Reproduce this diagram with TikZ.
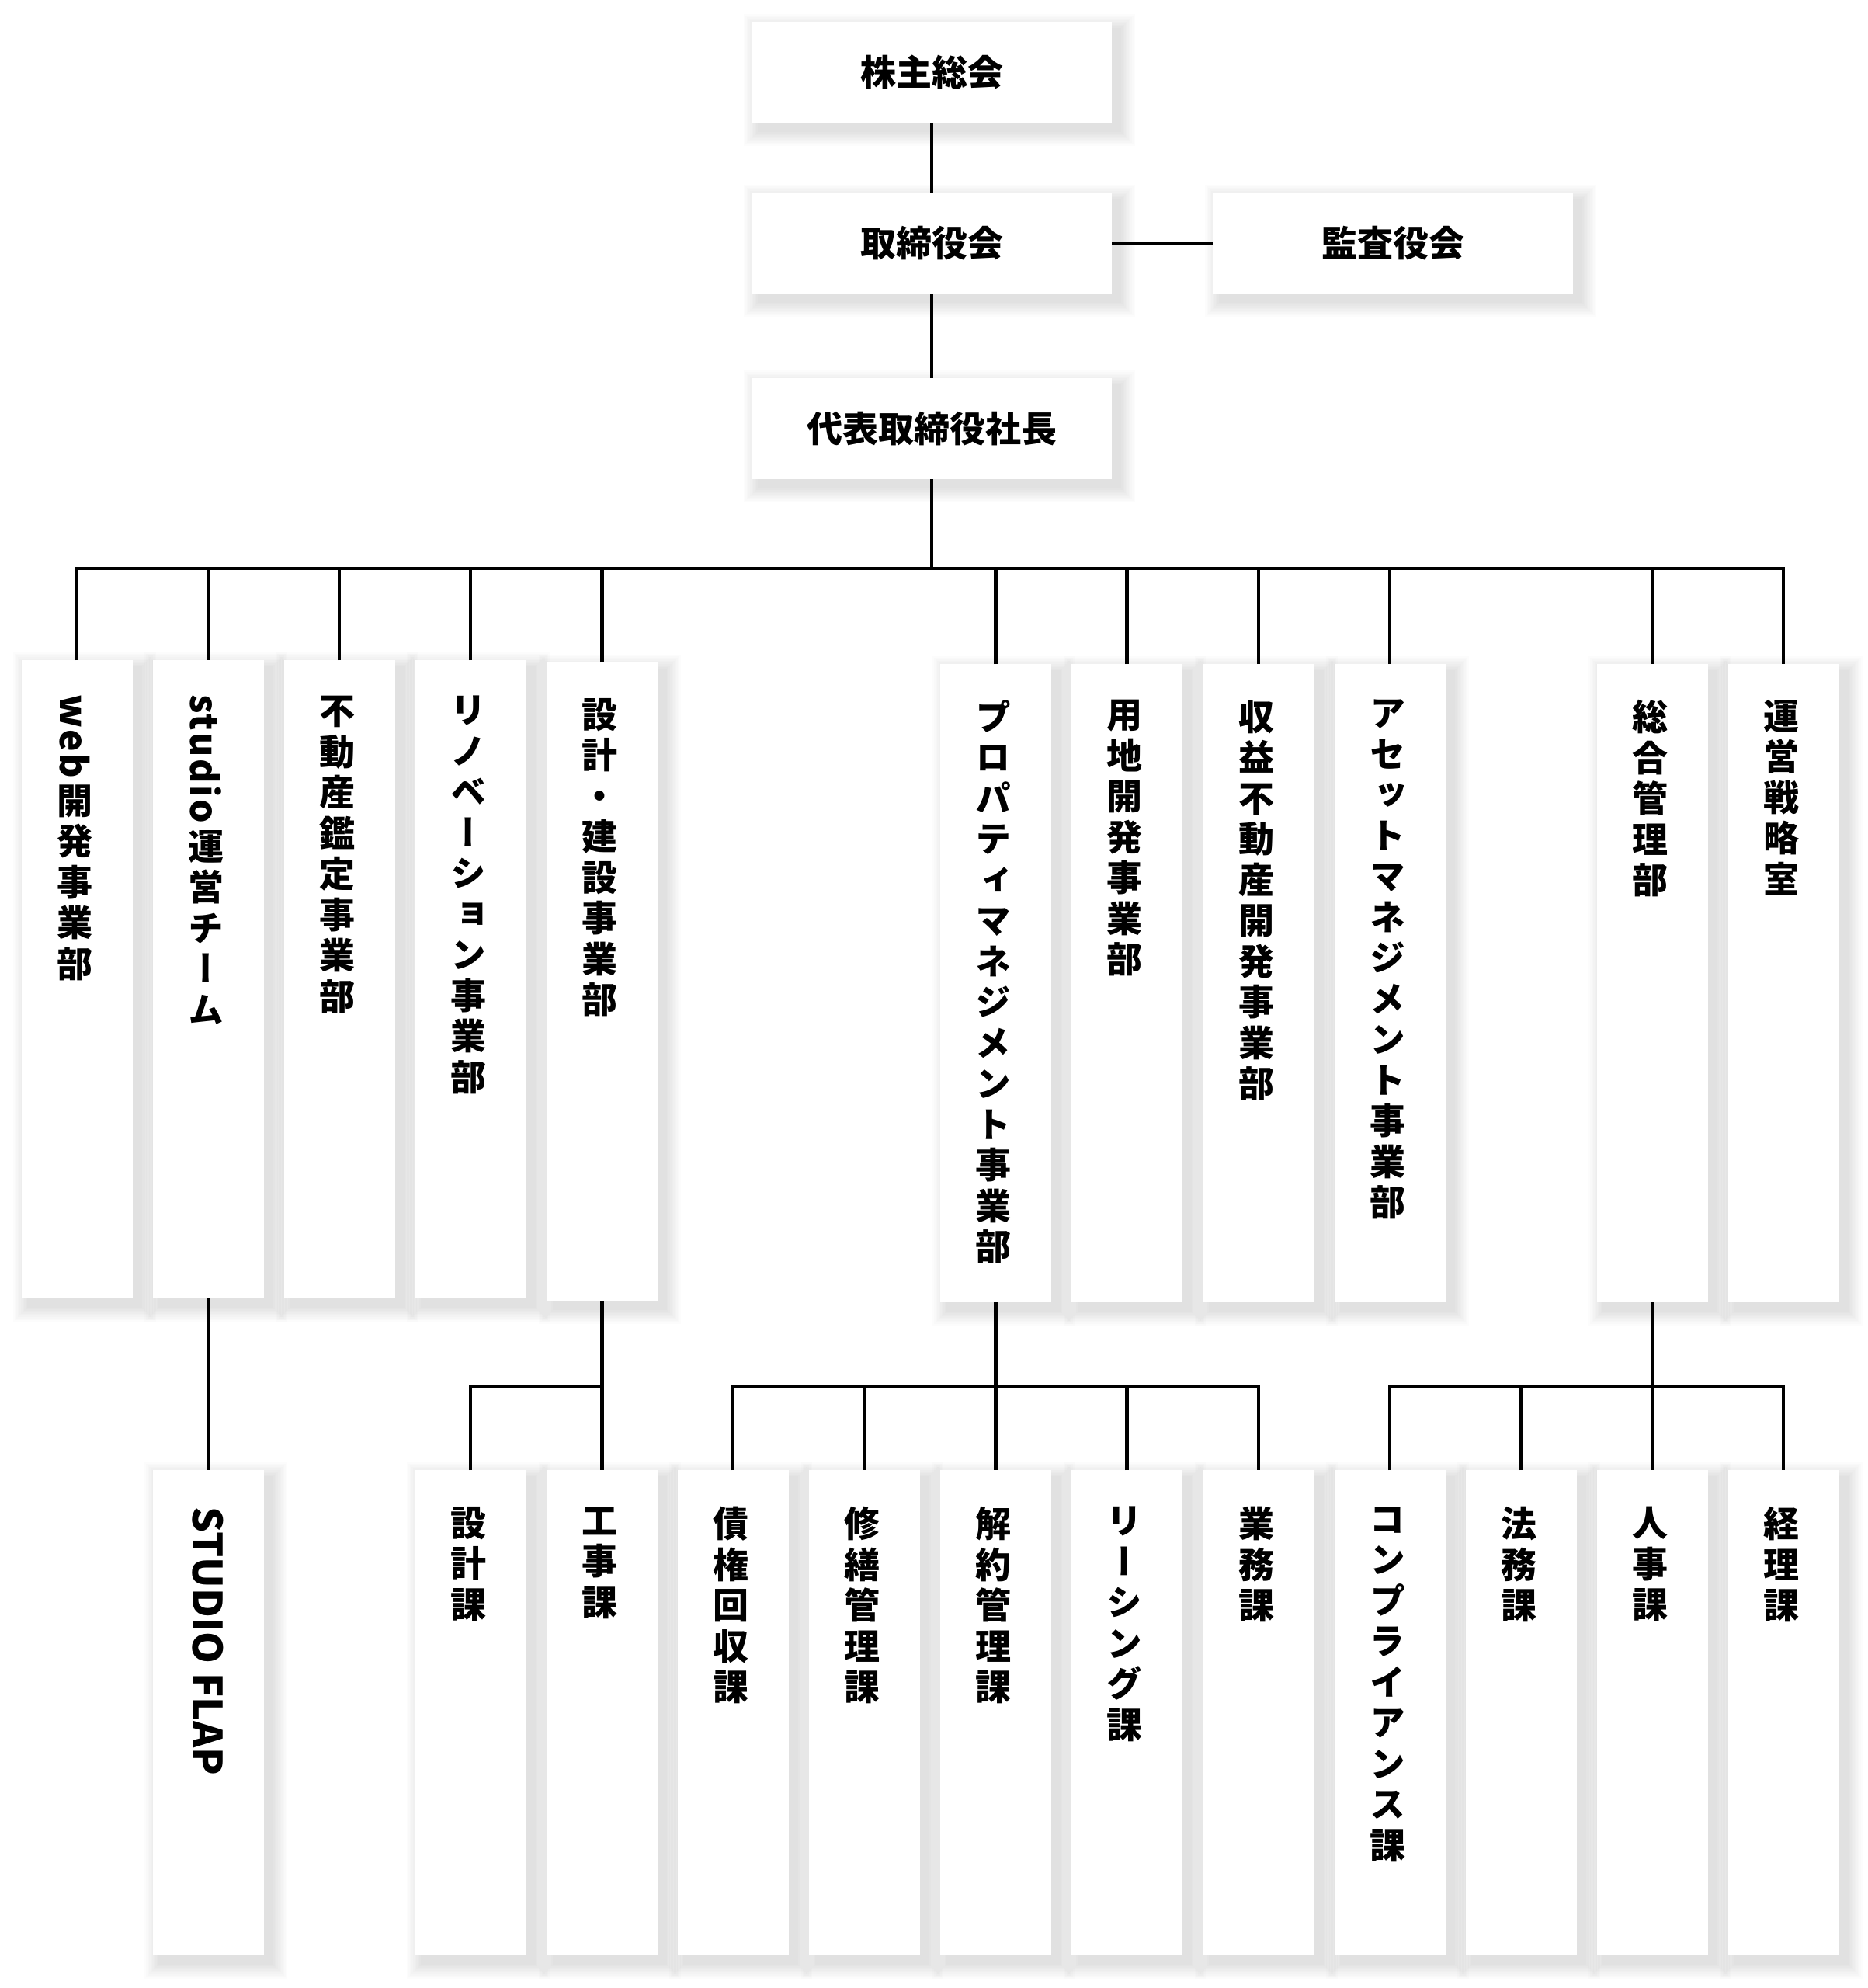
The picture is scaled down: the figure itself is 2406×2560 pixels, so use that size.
\documentclass[tikz,border=0pt]{standalone}
\usepackage{fontspec}
\usepackage{graphicx}
\newfontfamily\jp{Noto Sans CJK JP}
\newfontfamily\jpv{Noto Sans CJK JP}[RawFeature=+vert]
\newfontfamily\latf{Noto Sans CJK JP}[LetterSpace=5]
\pgfdeclarelayer{bglayer}
\pgfdeclarelayer{shadowlayer}
\pgfsetlayers{bglayer,shadowlayer,main}
\newcommand{\latw}[1]{\rotatebox{-90}{\latf\bfseries\fontsize{48pt}{48pt}\selectfont #1}}
\newcommand{\vst}[1]{\vbox{\baselineskip=52.5pt\lineskip=9pt\lineskiplimit=0pt\halign{\hfil##\hfil\cr#1\crcr}}}
\tikzset{
  orgbox/.style={fill=white, inner sep=0pt},
  headbox/.style={orgbox, minimum width=464pt, minimum height=130pt,
    font=\jp\bfseries\fontsize{46pt}{52pt}\selectfont},
  tallbox/.style={orgbox, anchor=north, minimum width=143pt, minimum height=822pt},
  lowbox/.style={orgbox, anchor=north, minimum width=143pt, minimum height=625pt},
  vlab/.style={anchor=north, inner sep=0pt,
    font=\jpv\bfseries\fontsize{46pt}{52.5pt}\selectfont},
  conn/.style={line width=4.5pt, line join=miter, black},
  softshade/.style={fill=black, fill opacity=0.013}
}
\begin{document}
\begin{tikzpicture}[x=1pt,y=-1pt]
\begin{pgfonlayer}{bglayer}
\fill[white] (0,0) rectangle (2406,2560);
\end{pgfonlayer}
\useasboundingbox (0,0) rectangle (2406,2560);
\coordinate (busy) at (0,732);
\coordinate (sub) at (0,1786);

% top hierarchy
\node[headbox] (kabu) at (1200,93) {株主総会};
\node[headbox] (tori) at (1200,313) {取締役会};
\node[headbox] (kansa) at (1794,313) {監査役会};
\node[headbox] (pres) at (1200,552) {代表取締役社長};

% departments (top row)
\node[tallbox] (d0) at (99,850) {};
\node[tallbox] (d1) at (268,850) {};
\node[tallbox] (d2) at (437,850) {};
\node[tallbox] (d3) at (606,850) {};
\node[tallbox] (d4) at (775.3,853) {};
\node[tallbox] (d7) at (1282.5,855) {};
\node[tallbox] (d8) at (1451.5,855) {};
\node[tallbox] (d9) at (1621,855) {};
\node[tallbox] (d10) at (1790,855) {};
\node[tallbox] (d12) at (2128,855) {};
\node[tallbox] (d13) at (2297,855) {};

% sections (bottom row)
\node[lowbox] (b1) at (268,1893) {};
\node[lowbox] (b3) at (606,1893) {};
\node[lowbox] (b4) at (775.3,1893) {};
\node[lowbox] (b5) at (944,1893) {};
\node[lowbox] (b6) at (1113.5,1893) {};
\node[lowbox] (b7) at (1282.5,1893) {};
\node[lowbox] (b8) at (1451.5,1893) {};
\node[lowbox] (b9) at (1621,1893) {};
\node[lowbox] (b10) at (1790,1893) {};
\node[lowbox] (b11) at (1959,1893) {};
\node[lowbox] (b12) at (2128,1893) {};
\node[lowbox] (b13) at (2297,1893) {};

% soft drop shadows behind every box
\begin{pgfonlayer}{shadowlayer}
\foreach \n in {kabu,tori,kansa,pres,d0,d1,d2,d3,d4,d7,d8,d9,d10,d12,d13,b1,b3,b4,b5,b6,b7,b8,b9,b10,b11,b12,b13}
  \foreach \r in {2,4,...,20}
    \fill[softshade] ([xshift={(10-\r)*1pt}, yshift={(\r-10)*1pt}]\n.north west)
      rectangle ([xshift={(10+\r)*1pt}, yshift={(-10-\r)*1pt}]\n.south east);
\end{pgfonlayer}

% vertical labels, top row
\node[vlab] (t0) at ([xshift=-3pt,yshift=-44pt]d0.north) {\vst{\latw{web}\cr 開\cr 発\cr 事\cr 業\cr 部}};
\node[vlab] (t1) at ([xshift=-3pt,yshift=-44pt]d1.north) {\vst{\latw{studio}\cr 運\cr 営\cr チ\cr ー\cr ム}};
\node[vlab] (t2) at ([xshift=-3pt,yshift=-46pt]d2.north) {\vst{不\cr 動\cr 産\cr 鑑\cr 定\cr 事\cr 業\cr 部}};
\node[vlab] (t3) at ([xshift=-3pt,yshift=-46pt]d3.north) {\vst{リ\cr ノ\cr ベ\cr ー\cr シ\cr ョ\cr ン\cr 事\cr 業\cr 部}};
\node[vlab] (t4) at ([xshift=-3pt,yshift=-46pt]d4.north) {\vst{設\cr 計\cr ・\cr 建\cr 設\cr 事\cr 業\cr 部}};
\node[vlab] (t7) at ([xshift=-3pt,yshift=-46pt]d7.north) {\vst{プ\cr ロ\cr パ\cr テ\cr ィ\cr マ\cr ネ\cr ジ\cr メ\cr ン\cr ト\cr 事\cr 業\cr 部}};
\node[vlab] (t8) at ([xshift=-3pt,yshift=-46pt]d8.north) {\vst{用\cr 地\cr 開\cr 発\cr 事\cr 業\cr 部}};
\node[vlab] (t9) at ([xshift=-3pt,yshift=-46pt]d9.north) {\vst{収\cr 益\cr 不\cr 動\cr 産\cr 開\cr 発\cr 事\cr 業\cr 部}};
\node[vlab] (t10) at ([xshift=-3pt,yshift=-46pt]d10.north) {\vst{ア\cr セ\cr ッ\cr ト\cr マ\cr ネ\cr ジ\cr メ\cr ン\cr ト\cr 事\cr 業\cr 部}};
\node[vlab] (t12) at ([xshift=-3pt,yshift=-46pt]d12.north) {\vst{総\cr 合\cr 管\cr 理\cr 部}};
\node[vlab] (t13) at ([xshift=-3pt,yshift=-46pt]d13.north) {\vst{運\cr 営\cr 戦\cr 略\cr 室}};

% vertical labels, bottom row
\node[anchor=west, rotate=-90, inner sep=0pt, font=\jp\bfseries\fontsize{52pt}{52pt}\selectfont] (s1) at ([yshift=-47pt]b1.north) {STUDIO FLAP};
\node[vlab] (s3) at ([xshift=-3pt,yshift=-47pt]b3.north) {\vst{設\cr 計\cr 課}};
\node[vlab] (s4) at ([xshift=-3pt,yshift=-47pt]b4.north) {\vst{工\cr 事\cr 課}};
\node[vlab] (s5) at ([xshift=-3pt,yshift=-47pt]b5.north) {\vst{債\cr 権\cr 回\cr 収\cr 課}};
\node[vlab] (s6) at ([xshift=-3pt,yshift=-47pt]b6.north) {\vst{修\cr 繕\cr 管\cr 理\cr 課}};
\node[vlab] (s7) at ([xshift=-3pt,yshift=-47pt]b7.north) {\vst{解\cr 約\cr 管\cr 理\cr 課}};
\node[vlab] (s8) at ([xshift=-3pt,yshift=-47pt]b8.north) {\vst{リ\cr ー\cr シ\cr ン\cr グ\cr 課}};
\node[vlab] (s9) at ([xshift=-3pt,yshift=-47pt]b9.north) {\vst{業\cr 務\cr 課}};
\node[vlab] (s10) at ([xshift=-3pt,yshift=-47pt]b10.north) {\vst{コ\cr ン\cr プ\cr ラ\cr イ\cr ア\cr ン\cr ス\cr 課}};
\node[vlab] (s11) at ([xshift=-3pt,yshift=-47pt]b11.north) {\vst{法\cr 務\cr 課}};
\node[vlab] (s12) at ([xshift=-3pt,yshift=-47pt]b12.north) {\vst{人\cr 事\cr 課}};
\node[vlab] (s13) at ([xshift=-3pt,yshift=-47pt]b13.north) {\vst{経\cr 理\cr 課}};

% connectors
\draw[conn] (kabu.south) -- (tori.north);
\draw[conn] (tori.east) -- (kansa.west);
\draw[conn] (tori.south) -- (pres.north);
\draw[conn] (pres.south) -- (pres.south |- busy);
\draw[conn] (d0.north) -- (d0.north |- busy) -- (d13.north |- busy) -- (d13.north);
\foreach \n in {d1,d2,d3,d4,d7,d8,d9,d10,d12}
  \draw[conn] (\n.north) -- (\n.north |- busy);

\draw[conn] (d1.south) -- (b1.north);

\draw[conn] (d4.south) -- (b4.north);
\draw[conn] (b3.north) -- (b3.north |- sub) -- (b4.north |- sub);

\draw[conn] (d7.south) -- (b7.north);
\draw[conn] (b5.north) -- (b5.north |- sub) -- (b9.north |- sub) -- (b9.north);
\draw[conn] (b6.north) -- (b6.north |- sub);
\draw[conn] (b8.north) -- (b8.north |- sub);

\draw[conn] (d12.south) -- (b12.north);
\draw[conn] (b10.north) -- (b10.north |- sub) -- (b13.north |- sub) -- (b13.north);
\draw[conn] (b11.north) -- (b11.north |- sub);
\end{tikzpicture}
\end{document}
